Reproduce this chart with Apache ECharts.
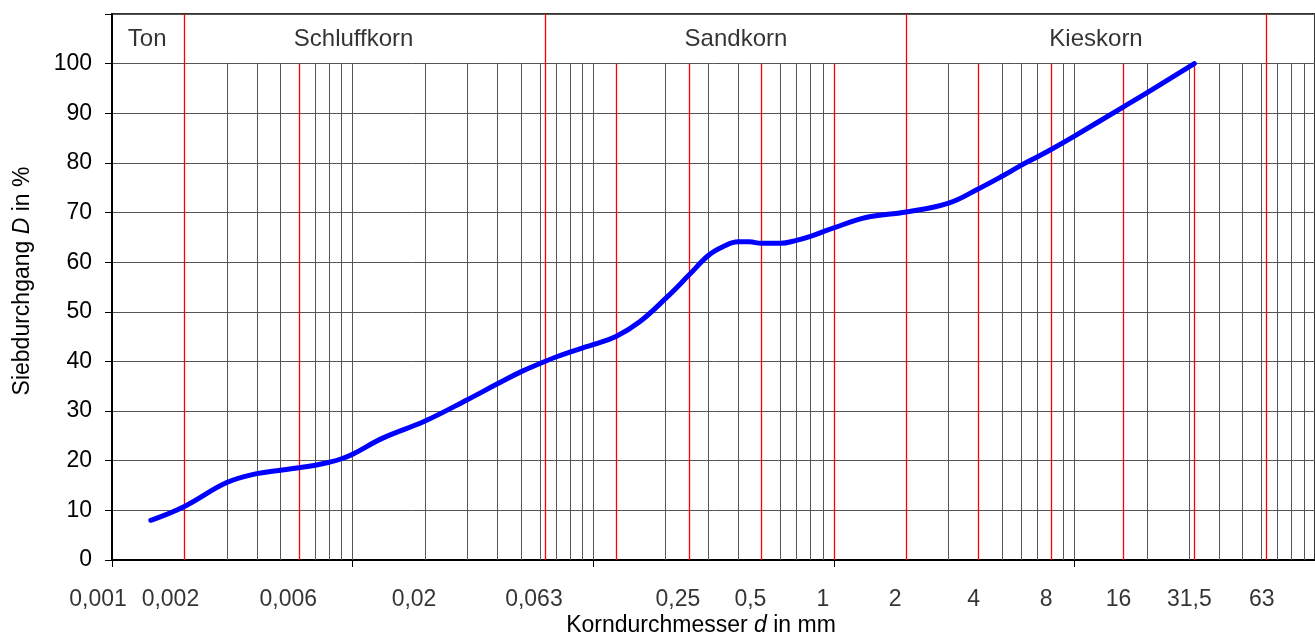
<!DOCTYPE html>
<html>
<head>
<meta charset="utf-8">
<title>Sieblinie</title>
<script src="https://cdn.jsdelivr.net/npm/echarts@6/dist/echarts.min.js"></script>
<style>
    html, body { margin: 0; padding: 0; background: #fff; }
    #main { width: 1315px; height: 637px; }
</style>
</head>
<body>
<div id="main"></div>
<script>
    // Korndurchmesser d (mm) / Siebdurchgang D (%)
    var diameters = [0.00145, 0.002, 0.003, 0.004, 0.005, 0.006, 0.007, 0.008, 0.009, 0.01,
        0.0134, 0.02, 0.03, 0.04, 0.05, 0.063, 0.07, 0.08, 0.09, 0.1, 0.125, 0.156, 0.2,
        0.25, 0.3, 0.346, 0.4, 0.446, 0.5, 0.6, 0.7, 0.8, 0.9, 1, 1.36, 2, 3, 4, 5, 6, 7, 8, 10,
        16, 20, 31.5];
    var passing = [8.0, 10.8, 15.6, 17.4, 18.1, 18.6, 19.1, 19.7, 20.4, 21.3,
        24.6, 28.0, 32.3, 35.5, 37.9, 40.0, 40.9, 41.9, 42.7, 43.4, 45.1, 48.0, 52.7,
        57.4, 61.3, 63.1, 64.1, 64.1, 63.8, 63.8, 64.4, 65.2, 66.1, 66.9, 69.0, 70.1, 71.9, 74.8,
        77.3, 79.5, 81.2, 82.7, 85.4, 91.3, 94.1, 100];

    // x axis labels
    var tickValues = [0.001, 0.002, 0.006, 0.02, 0.063, 0.25, 0.5, 1, 2, 4, 8, 16, 31.5, 63];
    var tickLabels = ['0,001', '0,002', '0,006', '0,02', '0,063', '0,25', '0,5', '1', '2', '4', '8', '16', '31,5', '63'];

    // red lines, the four band borders run up to the top
    var redLines = [0.002, 0.006, 0.063, 0.125, 0.25, 0.5, 1, 2, 4, 8, 16, 31.5, 63];
    var bandBorders = [0.002, 0.063, 2, 63];

    // soil classes in the top band
    var bandNames = ['Ton', 'Schluffkorn', 'Sandkorn', 'Kieskorn'];
    var bandAnchors = [0.0014, 0.0101, 0.392, 12.3];

    var FONT = 'Liberation Sans, Arial, Helvetica, sans-serif';

    // log grid 1..9 per decade
    var blackLines = [];
    for (var e = -3; e <= 1; e++) {
        for (var k = 1; k <= 9; k++) {
            var v = +(k * Math.pow(10, e)).toPrecision(3);
            if (v > 0.001) blackLines.push(v);
        }
    }

    var markData = [];
    blackLines.forEach(function (v) {
        markData.push([{coord: [v, 0], lineStyle: {color: '#555', width: 1, type: 'solid'}}, {coord: [v, 100]}]);
    });
    redLines.forEach(function (v) {
        var top = bandBorders.indexOf(v) >= 0 ? 110 : 100;
        markData.push([{coord: [v, 0], lineStyle: {color: '#ff0000', width: 1.3, type: 'solid'}}, {coord: [v, top]}]);
    });

    var chart = echarts.init(document.getElementById('main'));
    chart.setOption({
        animation: false,
        grid: {left: 112, top: 14, width: 1205, height: 546, show: true, borderColor: '#333', borderWidth: 2},
        xAxis: {
            type: 'log', logBase: 10, min: 0.001, max: 100,
            axisLine: {lineStyle: {color: '#000', width: 2}},
            axisTick: {show: true, length: 7, lineStyle: {color: '#000', width: 1}},
            axisLabel: {show: false},
            splitLine: {show: false},
            minorTick: {show: false}
        },
        yAxis: {
            type: 'value', min: 0, max: 110, interval: 10,
            axisLine: {show: true, lineStyle: {color: '#000', width: 2}},
            axisTick: {show: true, length: 7, lineStyle: {color: '#000'}},
            axisLabel: {
                color: '#000', fontSize: 23, fontFamily: FONT, margin: 20,
                formatter: function (v) { return v > 100 ? '' : v; }
            },
            splitLine: {show: true, lineStyle: {color: '#555', width: 1}}
        },
        series: [
            {
                // tick labels + grid lines
                type: 'scatter', z: 1, silent: true, clip: false,
                symbolSize: 0,
                data: tickValues.map(function (v, i) { return {value: [v, 0], name: tickLabels[i]}; }),
                label: {
                    show: true, position: 'inside', color: '#000', fontSize: 23, fontFamily: FONT,
                    formatter: '{b}'
                },
                labelLayout: function (p) {
                    var v = tickValues[p.dataIndex];
                    return {dx: v >= 4 ? -5 : (v <= 0.002 ? -14 : -11), dy: 40};
                },
                markLine: {
                    silent: true, symbol: 'none', label: {show: false},
                    emphasis: {disabled: true},
                    lineStyle: {type: 'solid'},
                    data: markData
                }
            },
            {
                type: 'scatter', z: 2, silent: true,
                symbolSize: 0,
                data: bandAnchors.map(function (v, i) { return {value: [v, 104.8], name: bandNames[i]}; }),
                label: {
                    show: true, position: 'inside', color: '#000', fontSize: 24, fontFamily: FONT,
                    formatter: '{b}'
                }
            },
            {
                type: 'line', z: 5, silent: true,
                data: diameters.map(function (d, i) { return [d, passing[i]]; }),
                smooth: 0.4,
                showSymbol: false,
                lineStyle: {color: '#0000ff', width: 5, cap: 'round', join: 'round'}
            }
        ],
        graphic: [
            {
                type: 'text', x: 22.5, y: 281, rotation: Math.PI / 2,
                style: {
                    text: 'Siebdurchgang {i|D} in %',
                    rich: {i: {fontStyle: 'italic', fontSize: 23, fontFamily: FONT, fill: '#000'}},
                    fontSize: 23, fontFamily: FONT, fill: '#000',
                    align: 'center', verticalAlign: 'middle', textAlign: 'center', textVerticalAlign: 'middle'
                }
            },
            {
                type: 'text', x: 701, y: 626,
                style: {
                    text: 'Korndurchmesser {i|d} in mm',
                    rich: {i: {fontStyle: 'italic', fontSize: 23, fontFamily: FONT, fill: '#000'}},
                    fontSize: 23, fontFamily: FONT, fill: '#000',
                    align: 'center', verticalAlign: 'middle', textAlign: 'center', textVerticalAlign: 'middle'
                }
            }
        ]
    });
</script>
</body>
</html>
